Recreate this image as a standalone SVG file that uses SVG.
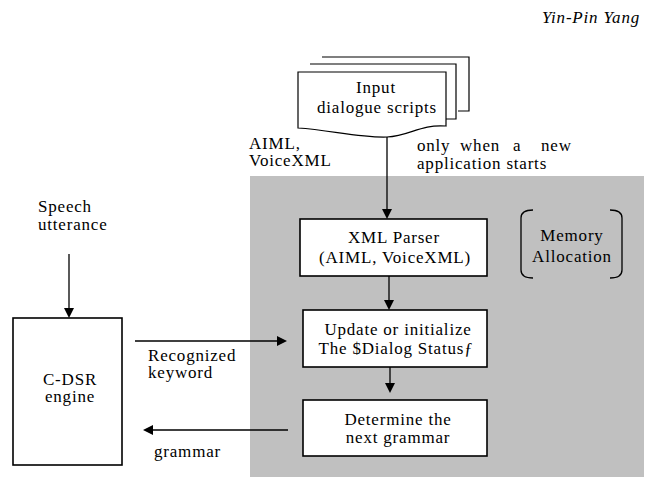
<svg xmlns="http://www.w3.org/2000/svg" width="650" height="478" viewBox="0 0 650 478">
<style>
.t{font-family:"Liberation Serif",serif;font-size:17px;fill:#000;letter-spacing:0.8px}
.c{text-anchor:middle}
.box{fill:#fff;stroke:#000;stroke-width:1.6}
.doc{fill:#fff;stroke:#000;stroke-width:1.2}
.ln{stroke:#000;stroke-width:1.3;fill:none}
.ah{fill:#000;stroke:none}
</style>
<rect width="650" height="478" fill="#fff"/>
<text class="t" font-family="Liberation Serif" x="640" y="23" font-style="italic" text-anchor="end">Yin-Pin Yang</text>
<rect id="region" x="250" y="176" width="394" height="301" fill="#c0c0c0"/>

<g id="input-scripts">
<path class="doc" d="M322,57 H469 V111 H458"/>
<path class="doc" d="M310,64 H456 V119 H446"/>
<path class="doc" d="M298,72 H446 V126 C420,124 410,136 387,137 C360,138 330,130 298,128 Z"/>
<text class="t c" font-family="Liberation Serif" x="376" y="93">Input</text>
<text class="t c" font-family="Liberation Serif" x="377" y="113">dialogue scripts</text>
</g>

<g id="label-aiml">
<text class="t" font-family="Liberation Serif" x="249" y="149">AIML,</text>
<text class="t" font-family="Liberation Serif" x="249" y="166">VoiceXML</text>
</g>
<g id="label-only">
<text class="t" font-family="Liberation Serif" x="417" y="151">only</text>
<text class="t" font-family="Liberation Serif" x="460" y="151">when</text>
<text class="t" font-family="Liberation Serif" x="513" y="151">a</text>
<text class="t" font-family="Liberation Serif" x="541" y="151">new</text>
<text class="t" font-family="Liberation Serif" x="417" y="169">application starts</text>
</g>

<g id="xml-parser">
<rect class="box" x="300" y="219" width="187" height="57"/>
<text class="t c" font-family="Liberation Serif" x="394" y="243">XML Parser</text>
<text class="t c" font-family="Liberation Serif" x="395" y="263">(AIML, VoiceXML)</text>
</g>

<g id="memory">
<path class="ln" d="M533,210 C525,210 521,212 521,218 V270 C521,276 525,278 533,278"/>
<path class="ln" d="M610,210 C618,210 622,212 622,218 V270 C622,276 618,278 610,278"/>
<text class="t c" font-family="Liberation Serif" x="572" y="241">Memory</text>
<text class="t c" font-family="Liberation Serif" x="572" y="262">Allocation</text>
</g>

<g id="update">
<rect class="box" x="303" y="310" width="184" height="57"/>
<text class="t c" font-family="Liberation Serif" x="398" y="335">Update or initialize</text>
<text class="t c" font-family="Liberation Serif" x="396" y="354">The $Dialog Statusƒ</text>
</g>

<g id="determine">
<rect class="box" x="303" y="400" width="184" height="56"/>
<text class="t c" font-family="Liberation Serif" x="398" y="425">Determine the</text>
<text class="t c" font-family="Liberation Serif" x="398" y="443">next grammar</text>
</g>

<g id="cdsr">
<rect class="box" x="13" y="318" width="109" height="147"/>
<text class="t c" font-family="Liberation Serif" x="70" y="385">C-DSR</text>
<text class="t c" font-family="Liberation Serif" x="70" y="402">engine</text>
</g>

<g id="label-speech">
<text class="t" font-family="Liberation Serif" x="38" y="212">Speech</text>
<text class="t" font-family="Liberation Serif" x="38" y="230">utterance</text>
</g>
<g id="label-recognized">
<text class="t" font-family="Liberation Serif" x="148" y="361">Recognized</text>
<text class="t" font-family="Liberation Serif" x="148" y="378">keyword</text>
</g>
<g id="label-grammar">
<text class="t" font-family="Liberation Serif" x="154" y="457">grammar</text>
</g>

<g id="connectors">
<line class="ln" x1="387" y1="137" x2="387" y2="210"/>
<polygon class="ah" points="382,209 392,209 387,219"/>
<line class="ln" x1="389" y1="276" x2="389" y2="301"/>
<polygon class="ah" points="384,300 394,300 389,310"/>
<line class="ln" x1="390" y1="367" x2="390" y2="385"/>
<polygon class="ah" points="385,383 395,383 390,393"/>
<line class="ln" x1="69" y1="254" x2="69" y2="309"/>
<polygon class="ah" points="64,308 74,308 69,318"/>
<line class="ln" x1="135" y1="341" x2="278" y2="341"/>
<polygon class="ah" points="277,336 277,346 287,341"/>
<line class="ln" x1="288" y1="430" x2="152" y2="430"/>
<polygon class="ah" points="153,425 153,435 143,430"/>
</g>
</svg>
